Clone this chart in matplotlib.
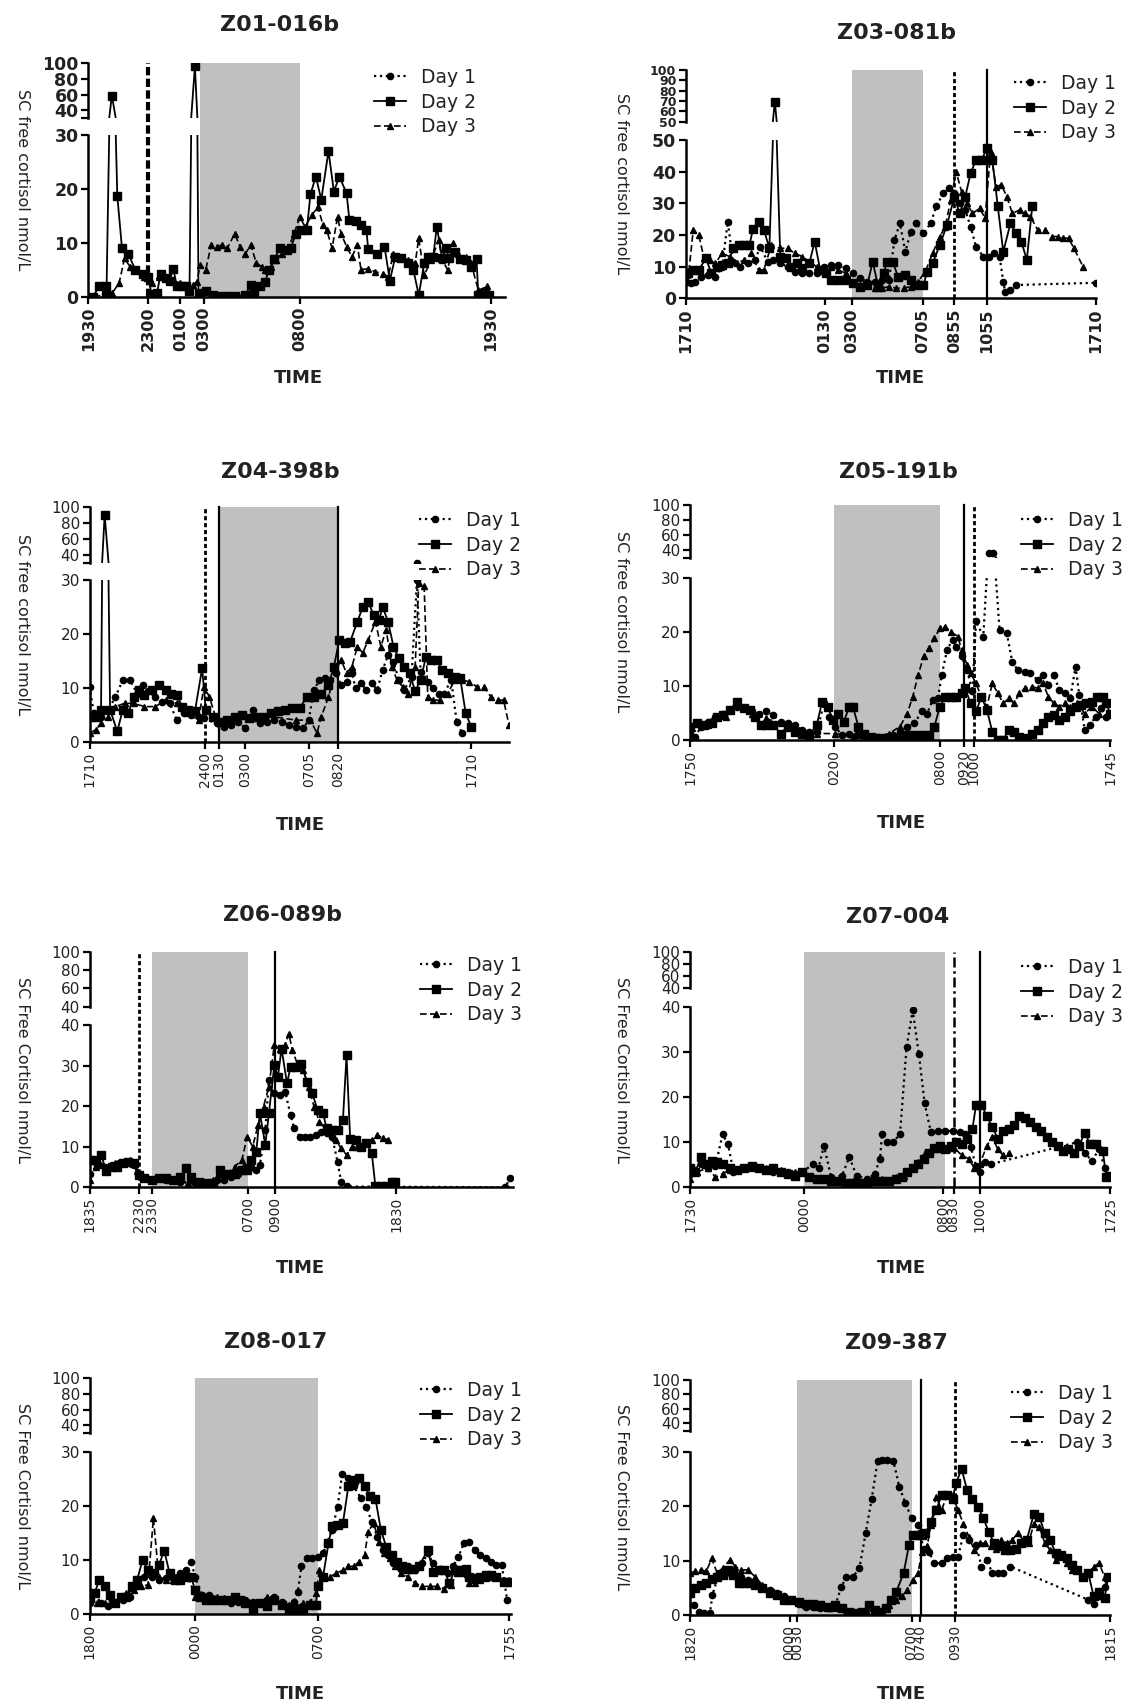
import matplotlib
matplotlib.use('Agg')
import matplotlib.pyplot as plt
from matplotlib.lines import Line2D

W, H = 1131, 1704

# x = sample position along the time axis (tick labels give clock time),
# y = SC free cortisol nmol/L.  Each series is a list of (x, y) pairs.

# ---------------- Z01-016b ----------------
z01_day1 = []
z01_day2 = [(1.3, 0), (3, 2), (5, 2), (5, 0.3), (6.5, 59), (8, 18.7), (9.3, 9), (11, 8), (13, 5), (15, 4.3),
            (16.5, 3.7), (17.5, 0.5), (19, 0.6), (20, 4.3), (21.5, 3.4), (22.5, 3), (23.5, 5.2), (24.5, 2),
            (26, 2), (27, 1.9), (28, 1), (29.5, 96), (30.5, 0.6), (32.5, 1), (34.5, 0.3), (36.5, 0.2),
            (38.5, 0.2), (40.5, 0.2), (43.5, 0.3), (45, 2.2), (46, 0.6), (47.5, 1.9), (49, 2.8), (50, 5),
            (51.5, 7), (53, 9), (55, 8.6), (56, 9), (57.5, 11.7), (59, 12.4), (60.5, 12.4), (61.5, 19),
            (63, 22.3), (64.5, 18), (66.5, 27), (68, 19.5), (69.5, 22.3), (71.5, 19.2), (72.3, 14.2),
            (74, 14), (75.5, 13.3), (77, 12.4), (77.5, 8.8), (80, 8), (82, 9.3), (83.5, 3), (85, 7.4),
            (86.5, 7.1), (88.5, 6.2), (90, 5), (91.5, 0.3), (93, 6.2), (94, 7.4), (95.5, 7.4), (96.5, 13),
            (98, 7.1), (99, 9), (100, 7.1), (101.5, 8.3), (103, 7), (104.5, 6.8), (106, 5.6), (107.5, 7),
            (108, 0.3), (109.5, 0.6), (111, 0.3)]
z01_day3 = [(1.5, 0), (6.5, 0.6), (8.5, 2.5), (10, 7.1), (11.5, 5.6), (13.5, 5), (15.5, 3.7), (17.5, 2.5),
            (19.5, 3.7), (21.5, 3.7), (23.5, 3), (25.5, 2.5), (27.5, 1.9), (29, 2.2), (30, 2.8), (31, 5.9),
            (32.5, 5), (34, 9.6), (35.5, 9.3), (37, 9.6), (38.5, 9), (40.5, 11.7), (42, 9.3), (43.5, 8),
            (45, 9.6), (46.5, 6.2), (48, 5.6), (49, 5), (50.5, 5.6), (52, 6.8), (53.5, 8), (55.5, 9.3),
            (57, 11.7), (58.5, 14.8), (60, 13), (62, 15.2), (63.5, 16.7), (65, 13.3), (66, 12.4), (67.5, 9),
            (69, 14.8), (70, 11.7), (71.5, 9.3), (73, 7.4), (74.5, 9.6), (75.5, 5), (77.5, 5.2), (79.5, 4.6),
            (81.5, 4.3), (83, 3.7), (84.5, 8), (86.5, 7.4), (88.5, 6.8), (90.5, 6.2), (91.5, 10.8), (93, 4),
            (95, 6.8), (97, 10.5), (98, 6.8), (99.5, 5), (101, 9.9), (102.5, 8), (104.5, 7.4), (106, 6.2),
            (108, 1.2), (110.5, 1.9), (111.5, 0.3)]
z01_ticks = [0, 16.5, 25.5, 32, 58.5, 111.5]
z01_labels = ['1930', '2300', '0100', '0300', '0800', '1930']
z01_shade = (31, 58.5)
z01_vlines = [(16.5, 'heavy')]

# ---------------- Z03-081b ----------------
z03_day1 = [(0.5, 7.4), (1.5, 4.7), (2.5, 5.3), (4, 6.8), (6, 7.4), (8, 6.8), (10, 10), (11.5, 24.2), (13, 11.6),
            (15, 10), (17, 11), (19, 12), (20.5, 16.3), (22.5, 11.6), (24, 12), (26, 11), (28, 10), (30, 8.4),
            (32, 7.9), (34, 7.9), (36, 7.9), (38, 10), (40, 10.5), (42, 10.5), (44, 9.5), (46, 7.9), (48, 6.3),
            (50, 5.3), (52, 5.3), (54, 5.8), (56, 5.8), (57.5, 18.4), (59, 23.7), (60.5, 14.7), (62, 21),
            (63.5, 23.7), (65.5, 20.5), (67.5, 23.7), (69, 29), (71, 33.2), (72.5, 34.7), (74, 33.2), (75.5, 30),
            (77, 27.9), (78.5, 22.6), (80, 16.3), (82, 13.2), (83.5, 13.2), (85, 14.2), (86.5, 13.2), (87.5, 5.3),
            (88, 2.1), (89.5, 2.6), (91, 4.2), (113, 4.9)]
z03_day2 = [(0.5, 7.9), (2, 9), (3.5, 9), (5.5, 12.6), (7, 7.9), (8.5, 10), (10, 10.5), (11.5, 11), (13, 15.8),
            (14.5, 16.8), (16, 16.8), (17.5, 16.8), (18.5, 22), (20, 24.2), (21.5, 21.6), (23, 15.8), (24.5, 69.4),
            (26, 13.2), (27.5, 12.6), (29, 10), (30.5, 11), (32, 9.5), (34, 11), (35.5, 17.9), (37, 9), (38.5, 7.9),
            (40, 5.8), (42, 5.8), (44, 5.8), (46, 4.7), (48, 3.7), (50, 4.2), (51.5, 11.6), (53, 3.7), (54.5, 7.9),
            (55.5, 11.6), (57, 11.6), (58.5, 6.8), (60.5, 7.4), (62, 5.8), (63.5, 4.2), (65.5, 4.2), (66.5, 8.4),
            (68, 11), (70, 16.8), (72, 23.2), (74, 32), (75.5, 26.8), (77, 32), (78.5, 39.5), (80, 43.7),
            (81.5, 43.7), (83, 47.4), (84.5, 43.7), (86, 29), (87.5, 14.7), (89.5, 23.7), (91, 20.5), (92.5, 17.9),
            (94, 12.1), (95.5, 29)]
z03_day3 = [(0.5, 5.3), (2, 21.6), (3.5, 20), (5, 12.6), (6.5, 12.1), (8, 11), (10, 14.2), (12, 13.2), (14, 11),
            (16, 12.1), (18, 14.2), (20, 9), (21.5, 9), (23.5, 16.8), (26, 15.8), (28, 15.8), (30, 14.2), (32, 13.2),
            (34, 11.6), (36, 10), (38, 9), (40, 10), (42, 9), (44, 7.9), (46, 4.7), (48, 4.2), (50, 4.2), (52, 3.2),
            (54, 3.2), (56, 3.7), (58, 3.2), (60, 3.2), (62, 3.7), (64, 5.3), (66, 8.4), (68, 14.2), (70, 19.5),
            (71.5, 22.6), (73, 31), (74.5, 40), (76, 33.7), (77.5, 30), (79, 26.8), (81, 28.4), (82.5, 25.3),
            (84, 46.3), (85.5, 35.3), (87, 35.8), (88.5, 32.1), (90, 26.8), (92, 27.9), (93.5, 26.8), (95, 25.8),
            (97, 21.6), (99, 21.6), (101, 19.5), (102.5, 19.5), (104, 19), (105.5, 19), (107, 15.8), (109.5, 10)]
z03_ticks = [0, 38.2, 45.8, 65.3, 74, 83, 113]
z03_labels = ['1710', '0130', '0300', '0705', '0855', '1055', '1710']
z03_shade = (45.8, 65.3)
z03_vlines = [(74, 'dotted'), (83, 'solid')]

# ---------------- Z04-398b ----------------
z04_day1 = [(0, 10.3), (1.2, 5.4), (3.2, 4.7), (5.2, 6), (7.2, 8.4), (9.2, 11.5), (11.2, 11.5), (13.2, 9),
            (14.7, 10.6), (16.2, 9.4), (18.2, 8.4), (20.2, 7.5), (22.2, 7.2), (24.2, 4.1), (26.2, 5.4), (28.2, 5),
            (30.2, 4.7), (31.7, 4.4), (35.2, 3.5), (37.2, 2.9), (39.2, 3.2), (41.2, 3.8), (43.2, 2.6), (45.2, 6),
            (47.2, 3.5), (49.2, 3.8), (51.2, 4.1), (53.2, 3.8), (55.2, 3.2), (57.2, 2.9), (59.2, 2.6), (60.7, 4.1),
            (62.2, 9.7), (63.7, 11.5), (65.2, 11.8), (66.7, 11.5), (68.2, 12.8), (69.7, 10.6), (71.2, 11.2),
            (72.7, 12.8), (73.7, 10), (75.2, 10.9), (76.7, 9.7), (78.2, 10.9), (79.7, 9.7), (81.2, 13.4),
            (82.7, 16.1), (84.2, 14.9), (85.7, 11.5), (87.2, 9.7), (89.2, 12.1), (90.7, 30), (91.7, 13),
            (93.7, 11.2), (95.2, 10), (96.7, 9), (98.2, 9), (100.2, 11.5), (101.7, 3.8), (103.2, 1.7)]
z04_day2 = [(0, 4.7), (1.7, 4.7), (3.2, 6), (4.2, 89.7), (5.7, 6), (7.7, 2), (9.2, 6), (10.7, 5.4), (12.2, 8.4),
            (13.7, 9.7), (15.2, 8.7), (17.2, 9.7), (19.2, 10.6), (21.2, 9.7), (22.7, 9), (24.2, 8.7), (25.7, 6.6),
            (27.2, 6), (29.2, 5.7), (31.2, 13.7), (32.2, 6), (34.2, 4.7), (36.2, 3.8), (38.2, 4.1), (40.2, 4.7),
            (42.2, 5), (44.2, 4.4), (46.2, 4.7), (48.2, 4.7), (50.2, 5.4), (52.2, 5.7), (54.2, 6), (56.2, 6.3),
            (58.2, 6.3), (60.2, 8.4), (62.2, 8.4), (64.2, 9), (66.2, 10.6), (67.7, 14), (69.2, 18.9), (70.7, 18.3),
            (72.2, 18.6), (74.2, 22.3), (75.7, 25), (77.2, 26), (78.7, 23.5), (80.2, 22.6), (81.2, 25), (82.7, 22.3),
            (84.2, 17.7), (85.7, 15.5), (87.2, 14), (88.7, 12.8), (90.2, 9.4), (91.7, 11.5), (93.2, 15.8),
            (94.7, 15.2), (96.2, 15.2), (97.7, 13.4), (99.2, 12.8), (101.2, 12.1), (102.7, 11.8), (104.2, 5.4),
            (105.7, 2.9)]
z04_day3 = [(0, 1.7), (1.7, 2.3), (3.2, 3.5), (5.2, 4.7), (7.2, 6.6), (9.7, 7.2), (12.2, 7.2), (15.2, 6.6),
            (18.2, 6.6), (21.2, 7.8), (24.2, 7.2), (27.2, 5.4), (30.2, 4.1), (31.7, 10.3), (33.2, 8.4), (35.2, 4.1),
            (39.2, 4.1), (45.2, 4.4), (51.2, 4.7), (57.2, 4.1), (61.2, 4.1), (63, 1.7), (64.2, 4.7), (66.2, 8.4),
            (68.2, 13.4), (69.7, 15.2), (71.2, 12.8), (72.7, 14), (74.2, 17.7), (75.7, 16.5), (77.2, 18.9),
            (79.2, 22.3), (80.7, 17.7), (82.2, 20.8), (83.7, 14), (85.2, 11.5), (86.7, 10.3), (88.2, 9), (90.2, 14),
            (91.2, 29.4), (92.7, 28.8), (93.7, 8.4), (95.2, 7.8), (97.2, 7.8), (99.2, 9), (101.2, 11.5),
            (103.2, 11.5), (105.2, 11.2), (107.2, 10.3), (109.2, 10.3), (111.2, 8.4), (113.2, 7.8), (114.7, 7.8),
            (116.2, 3.2)]
z04_ticks = [0, 31.9, 35.9, 43.2, 60.7, 68.9, 105.7]
z04_labels = ['1710', '2400', '0130', '0300', '0705', '0820', '1710']
z04_shade = (35.9, 68.9)
z04_vlines = [(31.9, 'dotted'), (35.9, 'solid'), (68.9, 'solid')]

# ---------------- Z05-191b ----------------
z05_day1 = [(0, 1.2), (1.5, 0.6), (3, 2.5), (5, 3.4), (7, 4.3), (9, 4.9), (11, 5.6), (13, 6.2), (15, 5.9),
            (17, 5.3), (19, 4.9), (21, 5.3), (23, 4.6), (25, 3.4), (27, 3.1), (29, 2.8), (31, 1.9), (33, 1.5),
            (35, 1.5), (37, 6.8), (38.5, 4.3), (40, 2.5), (42, 0.9), (44, 1.2), (46, 0.9), (48, 0.6), (50, 0.3),
            (52, 0.6), (54, 0.6), (56, 0.9), (58, 1.5), (60, 2.5), (62, 3.1), (64, 5.3), (65.5, 4.9), (67, 7.4),
            (68.5, 7.7), (69.5, 12), (71, 16.7), (72.5, 18.6), (73.5, 17.3), (75, 15.5), (76.5, 13), (78, 9),
            (79, 22), (81, 19.2), (82.5, 36.5), (83.8, 36.5), (85.5, 20.4), (87.5, 19.8), (89, 14.5), (90.5, 13),
            (92.5, 12.7), (94, 12.4), (96, 11.1), (97.5, 12), (99, 10.2), (100.5, 12), (102, 9.3), (103.5, 8.7),
            (105, 7.7), (106.5, 13.6), (107.5, 8.4), (109, 1.9), (110.5, 2.8), (112, 4.3), (113.5, 5.9), (115, 4.3)]
z05_day2 = [(0, 2.5), (2, 3.1), (4, 2.8), (6, 3.1), (7.5, 4.3), (9, 4.6), (11, 5.6), (13, 7.1), (15, 5.9),
            (16.5, 5.6), (18, 4.3), (19.5, 2.8), (21, 2.8), (23, 2.8), (25, 1.2), (27, 2.5), (29, 1.5), (31, 1.2),
            (33, 0.9), (35, 2.8), (36.5, 7.1), (38, 6.2), (39.5, 3.7), (41, 4.9), (42.5, 3.4), (44, 6.2), (45, 6.2),
            (46.5, 2.5), (48, 1.2), (50, 0.6), (52, 0.3), (54, 0.3), (56, 0.3), (58, 0), (60, 0.9), (62, 0.9),
            (64, 0.9), (66, 0.9), (67.5, 2.5), (69, 6.2), (70.5, 8), (72, 8), (73.5, 8), (75, 8.7), (76, 9.6),
            (77.5, 6.8), (79, 5.3), (80.5, 8), (82, 5.6), (83.5, 1.5), (85, 0), (86.5, 0), (88, 1.9), (89.5, 1.5),
            (91, 0.6), (93, 0.3), (94.5, 1.2), (96, 1.9), (97.5, 3.1), (99, 4.3), (100.5, 4.6), (102, 3.7),
            (103.5, 4.3), (105, 5.3), (106.5, 6.2), (108, 6.5), (109.5, 6.8), (111, 7.1), (112.5, 8), (114, 8),
            (115, 6.8), (116, 4.9)]
z05_day3 = [(0, 1.2), (5, 2.8), (10, 4.3), (13, 6.8), (17, 4.9), (21, 4), (25, 3.1), (30, 1.9), (35, 1.2),
            (40, 1.2), (45, 0.6), (50, 0.3), (55, 1.2), (58, 2.5), (60, 4.9), (61.5, 8), (63, 12), (64.5, 15.5),
            (66, 17.1), (67.5, 18.9), (69, 20.7), (70.5, 21), (72, 20.1), (74, 19.2), (75, 16.7), (76.5, 14),
            (77.5, 12.4), (79, 10.5), (80.5, 8), (82, 6.2), (83.5, 10.5), (85, 8.7), (86.5, 6.8), (88, 7.7),
            (89.5, 6.8), (91, 8.7), (92.5, 9.6), (94.5, 9.9), (96, 9.6), (97.5, 10.5), (99, 8), (100.5, 6.8),
            (102, 6.2), (103.5, 6.8), (105, 6.2), (107, 6.8), (109, 4.9), (111, 6.2), (113, 4.9), (115, 6.8)]
z05_ticks = [0, 39.8, 69, 75.8, 78.3, 116]
z05_labels = ['1750', '0200', '0800', '0920', '1000', '1745']
z05_shade = (39.8, 69)
z05_vlines = [(75.8, 'solid'), (78.3, 'dotted')]

# ---------------- Z06-089b ----------------
z06_day1 = [(0, 3.4), (2.2, 5.5), (4.2, 5.1), (6.2, 5.5), (8.2, 5.9), (10.2, 5.9), (12.2, 5.5), (14.2, 2.6),
            (17.2, 1.8), (21.2, 1.8), (25.2, 1.4), (29.2, 1), (31.2, 0.6), (33.2, 0.6), (35.2, 1.8), (37.2, 1.8),
            (39.2, 2.6), (41.2, 3.4), (43.2, 5.1), (44.7, 5.1), (46.2, 4.3), (47.2, 5.5), (48.7, 14.1), (49.7, 26.4),
            (51.2, 23.2), (52.7, 22.8), (54.2, 23.6), (55.7, 17.8), (56.7, 14.5), (58.2, 12.5), (59.7, 12.5),
            (61.2, 12.5), (62.7, 12.9), (64.2, 13.7), (65.7, 13.3), (67.2, 12.5), (68.7, 6.3), (69.7, 1.4),
            (71.2, 0.2), (115.2, 0), (116.4, 2.2)]
z06_day2 = [(0, 6.7), (1.7, 6.7), (3.2, 8), (4.7, 3.9), (6.2, 5.1), (7.7, 5.1), (9.2, 5.9), (10.7, 6.3), (12.2, 5.9),
            (13.7, 3), (15.2, 2.2), (17.2, 1.8), (19.2, 2.2), (21.2, 2.2), (23.2, 1.8), (25.2, 2.6), (26.7, 4.7),
            (28.2, 2.6), (30.2, 1.4), (32.2, 1), (34.2, 1), (36.2, 4.3), (38.2, 3.4), (40.2, 3.4), (42.2, 4.3),
            (43.7, 4.3), (44.7, 6.7), (46.2, 8.8), (47.2, 18.2), (48.7, 10.5), (49.7, 18.2), (51.2, 30.1),
            (52.2, 27.3), (53.2, 34.2), (54.7, 25.6), (55.7, 29.7), (57.2, 29.7), (58.7, 30.5), (60.2, 26),
            (61.7, 23.2), (63.2, 19), (64.7, 18.2), (65.7, 14.5), (67.2, 14.1), (68.7, 14.1), (70.2, 16.6),
            (71.2, 32.5), (72.2, 12), (73.7, 11.7), (75.2, 10), (76.7, 10.8), (78.2, 8.4), (79.2, 0.2), (80.7, 0.2),
            (82.2, 0.2), (83.7, 1.4), (84.7, 1.4)]
z06_day3 = [(0, 1.8), (1.7, 5.1), (3.2, 5.5), (5.2, 5.1), (7.2, 5.9), (9.2, 5.9), (11.2, 6.7), (13.2, 3.9),
            (15.2, 2.2), (19.2, 2.2), (23.2, 1.8), (27.2, 1), (31.2, 0.6), (34.2, 1.8), (36.2, 3.4), (38.2, 3.4),
            (40.2, 5.1), (42.2, 6.7), (43.7, 12.5), (45.2, 10), (46.7, 15.4), (48.2, 19.9), (49.7, 24.8),
            (51.2, 35.1), (52.7, 34.2), (54.2, 35.1), (55.2, 37.9), (56.2, 33.8), (57.7, 30.1), (59.2, 28.9),
            (60.7, 24.8), (62.2, 19.9), (63.7, 16.2), (65.2, 14.5), (66.7, 13.3), (68.2, 11.7), (69.7, 9.6),
            (71.2, 8), (72.7, 10), (74.2, 10), (76.2, 10.8), (78.2, 11.7), (79.7, 12.9), (81.2, 12.1), (82.7, 11.7)]
z06_ticks = [0, 13.7, 17.4, 44, 51.4, 84.9]
z06_labels = ['1835', '2230', '2330', '0700', '0900', '1830']
z06_shade = (17.4, 44)
z06_vlines = [(13.7, 'dotted'), (51.4, 'solid')]

# ---------------- Z07-004 ----------------
z07_day1 = [(0, 3.4), (3, 5.1), (5, 4.3), (7, 4.7), (9, 11.7), (10.5, 9.6), (12, 3.4), (15, 4.3), (19, 4.3),
            (23, 3.4), (27, 3.4), (31, 3.4), (34, 5.1), (35.5, 4.3), (37, 9.2), (39, 2.2), (42, 2.6), (44, 6.7),
            (46, 2.6), (49, 1.8), (51, 3), (52.5, 6.3), (53, 11.7), (54.5, 10), (56, 10), (58, 11.7), (59.8, 31),
            (61.5, 39.2), (63.2, 29.6), (64.8, 18.6), (66.5, 12.3), (68.5, 12.5), (70.5, 12.5), (72.5, 12.5),
            (74.5, 12.3), (76, 11.7), (77.5, 9), (79, 4.7), (80, 3.4), (81.5, 5.5), (83, 5.1), (107, 10),
            (109, 7.6), (111, 5.9), (113, 8.4), (114.5, 4.3)]
z07_day2 = [(0, 4.3), (1.5, 3.4), (3, 6.7), (4.5, 5.1), (6, 5.9), (7.5, 5.5), (9, 5.1), (11, 4.3), (13, 3.9),
            (15, 4.3), (17, 4.7), (19, 4.3), (21, 3.9), (23, 4.3), (25, 3.4), (27, 3), (29, 2.6), (31, 3.4),
            (33, 2.2), (35, 1.8), (37, 1.8), (39, 1.4), (41, 1.4), (43, 1), (45, 1), (47, 1), (49, 1), (51, 1.4),
            (53, 1.4), (55, 1.4), (57, 1.8), (58.5, 2.2), (60, 3.4), (61.5, 4.3), (63, 5.1), (64.5, 6.3), (66, 7.6),
            (67.5, 8.8), (69, 9.2), (70.5, 8.4), (72, 9.2), (73.5, 10), (75, 9.6), (76.5, 10.8), (78, 12.9),
            (79, 18.2), (80.5, 18.2), (82, 15.8), (83.5, 13.3), (85, 10.8), (86.5, 12.5), (88, 12.9), (89.5, 13.7),
            (91, 15.8), (92.5, 15.4), (94, 14.5), (95.5, 13.3), (97, 12.5), (98.5, 11.2), (100, 10), (101.5, 9.2),
            (103, 8), (104.5, 8.4), (106, 7.6), (107.5, 9.2), (109, 12.1), (110.5, 9.6), (112, 9.6), (114, 8),
            (115, 2.2), (116, 2.6)]
z07_day3 = [(0, 1.8), (2, 3.4), (5, 4.3), (7, 2.2), (9, 3), (11, 3.9), (13, 3.9), (17, 4.3), (21, 4.3), (25, 3.9),
            (29, 3.4), (33, 2.6), (37, 1.8), (41, 1.4), (45, 1.4), (49, 1.4), (53, 1.8), (57, 2.2), (59, 2.6),
            (61, 4.3), (63, 5.5), (65, 7.6), (67, 8.4), (69, 8.4), (71, 8.4), (73, 8.8), (75, 7.1), (77, 6.3),
            (78.5, 4.3), (80, 5.1), (82, 9.2), (83.5, 11.2), (85, 8.4), (86.5, 7.1), (88, 7.6)]
z07_ticks = [0, 31.5, 70, 72.8, 80, 116]
z07_labels = ['1730', '0000', '0800', '0830', '1000', '1725']
z07_shade = (31.5, 70.5)
z07_vlines = [(72.8, 'dashdot'), (80, 'solid')]

# ---------------- Z08-017 ----------------
z08_day1 = [(0, 2), (1.4, 3.8), (3.2, 2), (5.2, 1.4), (7.2, 2), (9.2, 2.6), (11.2, 3.2), (13.2, 5.1), (15.2, 6.9),
            (17.2, 6.9), (19.2, 6.3), (21.2, 6.6), (23.2, 6.9), (25.2, 7.5), (26.7, 8.1), (28.2, 9.7), (29.2, 6.9),
            (31.2, 3.5), (33.2, 3.5), (35.2, 2.6), (37.2, 2.6), (39.2, 2), (41.2, 2.3), (43.2, 2.6), (45.2, 2.3),
            (47.2, 2), (49.2, 2.6), (51.2, 3.2), (53.2, 2.3), (55.2, 1.4), (56.7, 2.3), (57.7, 4.1), (58.7, 8.8),
            (60.2, 10.3), (61.7, 10.3), (63.2, 10.6), (64.7, 11.2), (65.7, 13), (67.2, 15.5), (68.7, 19.8),
            (70, 25.9), (71.7, 25.1), (73.2, 23.6), (75.2, 21.4), (76.7, 19.8), (78.2, 17), (79.7, 14.3),
            (81.2, 11.8), (82.7, 10.9), (84.2, 9.4), (86.2, 8.4), (88.2, 8.8), (90.2, 8.1), (92.2, 9.4),
            (93.7, 11.2), (95.2, 9.4), (97.2, 8.4), (99.2, 7.5), (100.7, 8.8), (102.2, 10.6), (103.7, 13.1),
            (105.2, 13.4), (106.7, 11.8), (108.2, 10.9), (109.7, 10.3), (111.2, 9.7), (112.7, 9), (114.2, 9),
            (115.7, 2.6)]
z08_day2 = [(0, 3.2), (1.4, 3.8), (2.7, 6.3), (4.2, 5.1), (5.7, 3.5), (7.2, 2), (8.7, 3.2), (10.2, 3.2),
            (11.7, 5.1), (13.2, 6.3), (14.7, 10), (16.2, 8.1), (17.7, 7.5), (19.2, 9), (20.7, 11.7), (22.2, 7.5),
            (23.7, 6.3), (25.2, 6.3), (26.7, 6.9), (28.2, 6.9), (29.2, 4.4), (30.7, 3.2), (32.2, 2.6), (34.2, 2.6),
            (36.2, 2.6), (38.2, 2.6), (40.2, 3.2), (41.7, 2.6), (43.2, 2), (45.2, 1), (47.2, 2), (49.2, 1.4),
            (51.2, 2.6), (53.2, 1.7), (55.2, 1), (57.2, 0.4), (59.2, 1), (61.2, 1.7), (62.7, 1.7), (63.2, 5.1),
            (64.7, 6.9), (66.2, 13.1), (67.2, 16.2), (68.7, 16.5), (70.2, 16.8), (71.7, 23.6), (73.2, 24.8),
            (74.7, 25.1), (76.2, 23.6), (77.7, 21.9), (79.2, 21.3), (80.7, 15.6), (82.2, 12.4), (83.7, 10.9),
            (85.2, 9.7), (86.7, 8.8), (88.2, 8.4), (89.7, 8.4), (91.2, 8.8), (93.7, 11.8), (95.2, 7.8), (96.7, 8.1),
            (98.2, 8.1), (99.7, 5.7), (101.2, 8.1), (102.7, 8.1), (104.2, 8.4), (105.2, 6.9), (106.7, 6.6),
            (108.2, 6.9), (109.7, 7.2), (111.2, 7.2), (112.7, 6.9), (114.7, 6), (116.2, 6)]
z08_day3 = [(0, 2.6), (2.2, 2), (4.2, 2), (6.2, 2.6), (8.2, 3.2), (10.2, 3.8), (12.2, 4.4), (14.2, 5.1), (16.2, 5.4),
            (17.7, 17.7), (19.2, 6.9), (21.2, 6.3), (23.2, 6.3), (25.2, 6.6), (27.2, 7.2), (29.2, 3.2), (31.2, 3.2),
            (33.2, 3.5), (35.2, 3.2), (37.2, 2.9), (39.2, 2.6), (41.2, 2.6), (43.2, 2), (45.2, 2), (47.2, 2),
            (49.2, 3.2), (51.2, 2.6), (53.2, 2), (55.2, 1.7), (57.2, 1.4), (59.2, 2), (61.2, 2.3), (62.7, 3.8),
            (63.7, 8.1), (65.2, 6.9), (66.7, 6.9), (68.2, 7.5), (70.2, 8.1), (71.7, 8.8), (73.2, 8.8), (74.7, 9.7),
            (76.2, 10.9), (77.2, 15.2), (78.7, 16.8), (80.2, 13.4), (81.7, 11.2), (83.2, 10.3), (84.7, 8.8),
            (86.2, 7.5), (88.2, 6.9), (90.2, 5.7), (92.2, 5.1), (94.2, 5.1), (96.2, 5.1), (98.2, 4.7), (100.2, 5.4),
            (101.7, 7.5), (103.2, 7.5), (105.2, 5.7), (106.7, 5.7), (108.2, 6.3), (109.7, 6.6), (111.2, 6.9),
            (113.2, 6.9), (114.7, 6.3), (116.2, 6.3)]
z08_ticks = [0, 29.2, 63.2, 116.2]
z08_labels = ['1800', '0000', '0700', '1755']
z08_shade = (29.2, 63.4)
z08_vlines = []

# ---------------- Z09-387 ----------------
z09_day1 = [(1, 1.8), (2.5, 0.6), (4, 0.3), (5.5, 0.3), (6.2, 3.7), (8, 7.7), (10, 7.7), (12, 8.3), (14, 7),
            (16, 6.4), (18, 5.5), (20, 5.2), (22, 4.6), (24, 4), (26, 3.4), (28, 2.8), (30, 2.1), (32, 1.5),
            (34, 1.5), (36, 1.2), (38, 1.2), (40, 1.5), (41.8, 5.2), (43.2, 7), (45, 7), (46.8, 8.6), (48.5, 15),
            (50.2, 21.4), (51.8, 28.2), (53, 28.5), (54.5, 28.5), (56.2, 28.2), (57.8, 23.6), (59.5, 20.5),
            (61.2, 17.8), (63, 16.5), (64.5, 12.2), (66, 11.6), (67.5, 9.5), (69.5, 9.5), (71, 10.4), (72.5, 10.7),
            (74, 10.7), (75.5, 14.7), (77, 13.8), (79, 12.9), (80.5, 8.9), (82, 10.1), (83.5, 7.7), (85, 7.7),
            (86.5, 7.7), (88.5, 8.9), (110, 2.8), (111.5, 2.1), (113, 3.4), (114.5, 5.2), (115.5, 7)]
z09_day2 = [(0, 4), (1.5, 4.9), (3, 5.5), (4.5, 5.8), (6, 6.7), (7.5, 7), (9, 7.3), (10.5, 8.3), (12, 7.3),
            (13.5, 5.8), (15, 5.8), (16.5, 5.8), (18, 5.5), (20, 4.9), (22, 4), (24, 3.7), (26, 2.8), (28, 2.8),
            (30, 2.4), (32, 2.1), (34, 2.1), (36, 1.8), (38, 1.5), (40, 1.8), (42, 1.2), (44, 0.6), (46, 0.3),
            (47.5, 0.6), (49.5, 1.8), (51, 0.9), (52.5, 0.6), (54, 1.2), (55.5, 2.8), (57, 4.3), (59, 7.7),
            (60.5, 12.9), (61.5, 14.7), (63, 14.7), (64, 14.7), (65, 15), (66.5, 17.1), (68, 19.3), (69.5, 22),
            (71, 22), (72.5, 21.4), (73.5, 24.2), (75, 26.9), (76.5, 23), (78, 21.4), (79.5, 19.9), (81, 17.8),
            (82.5, 15.3), (84, 13.2), (85.5, 12.6), (87, 11.9), (88.5, 11.9), (90, 12.2), (91.5, 13.2), (93, 13.8),
            (95, 18.6), (96.5, 18), (98, 15), (99.5, 13.8), (101, 11.3), (102.5, 11), (104, 10.4), (105.5, 9.2),
            (107, 8.3), (108.5, 7), (110, 7.7), (111.5, 3.4), (113, 4.3), (114.5, 3.1), (115.5, 7)]
z09_day3 = [(0, 7.7), (1.5, 8), (3, 8.3), (4.5, 8), (6, 10.4), (7.5, 7.7), (9, 8.6), (11, 10.1), (12.5, 8.9),
            (14, 8.3), (16, 8.3), (18, 7), (20, 5.5), (22, 4.6), (24, 4), (26, 3.4), (28, 2.8), (31, 2.4), (33, 1.8),
            (35, 1.5), (37, 1.5), (39, 1.2), (41, 1.2), (43, 0.9), (45, 0.6), (47, 0.6), (49, 0.6), (51, 0.9),
            (53, 0.9), (55, 1.8), (57, 2.8), (58.5, 3.4), (60, 4.6), (61.5, 6.4), (63, 7.7), (64, 11.6), (65.5, 12.6),
            (66.5, 16.5), (68, 21.7), (69.5, 19.3), (71, 22), (72.5, 22), (74, 19.3), (75.5, 16.8), (77, 14.4),
            (78.5, 11.9), (80, 13.2), (81.5, 13.2), (83, 12.6), (84.5, 12.2), (86, 13.8), (87.5, 13.2), (89, 13.8),
            (90.5, 15), (92, 13.8), (93.5, 13.2), (95, 16.8), (96.5, 16.2), (98, 13.2), (99.5, 11.9), (101, 10.1),
            (102.5, 10.7), (104, 9.5), (105.5, 8.3), (107, 8.3), (108.5, 7), (110, 7.7), (111.5, 8.9), (113, 9.5),
            (114.5, 7)]
z09_ticks = [0, 27.5, 29.5, 61.2, 63.5, 73.3, 116]
z09_labels = ['1820', '0000', '0030', '0700', '0740', '0930', '1815']
z09_shade = (29.5, 61.2)
z09_vlines = [(63.7, 'solid'), (73.3, 'dotted')]

# panel layout in pixels of the 1131 x 1704 figure
panels = [
    dict(title='Z01-016b', d=(z01_day1, z01_day2, z01_day3), ticks=z01_ticks, labels=z01_labels,
         shade=z01_shade, vlines=z01_vlines, xs=(88.4, 505.4), xmax=115.5,
         low=(135, 296.7), up=(63.3, 118.3), cut=30, uticks=[30, 40, 60, 80, 100],
         tpos=(280, 25), time=(298, 378), ylab=(22, 180), leg=(374, 80), bold=True,
         ylabel='SC free cortisol nmol/L'),
    dict(title='Z03-081b', d=(z03_day1, z03_day2, z03_day3), ticks=z03_ticks, labels=z03_labels,
         shade=z03_shade, vlines=z03_vlines, xs=(686, 1095.7), xmax=113,
         low=(140, 298.3), up=(70, 121.7), cut=50, uticks=[50, 60, 70, 80, 90, 100],
         tpos=(896, 33), time=(900, 378), ylab=(622, 184), leg=(1014, 86), bold=True,
         ylabel='SC free cortisol nmol/L'),
    dict(title='Z04-398b', d=(z04_day1, z04_day2, z04_day3), ticks=z04_ticks, labels=z04_labels,
         shade=z04_shade, vlines=z04_vlines, xs=(89.5, 509), xmax=116.2,
         low=(580, 742.3), up=(506.7, 562.7), cut=30, uticks=[30, 40, 60, 80, 100],
         tpos=(280, 472), time=(300, 825), ylab=(22, 625), leg=(419, 523), bold=False,
         ylabel='SC free cortisol nmol/L'),
    dict(title='Z05-191b', d=(z05_day1, z05_day2, z05_day3), ticks=z05_ticks, labels=z05_labels,
         shade=z05_shade, vlines=z05_vlines, xs=(690, 1110), xmax=116,
         low=(578.3, 740), up=(505, 557.5), cut=30, uticks=[30, 40, 60, 80, 100],
         tpos=(898, 472), time=(901, 823), ylab=(621, 622), leg=(1021, 523), bold=False,
         ylabel='SC free cortisol nmol/L'),
    dict(title='Z06-089b', d=(z06_day1, z06_day2, z06_day3), ticks=z06_ticks, labels=z06_labels,
         shade=z06_shade, vlines=z06_vlines, xs=(89.5, 512.6), xmax=117.2,
         low=(1025, 1187.3), up=(951.7, 1006.7), cut=40, uticks=[40, 60, 80, 100],
         tpos=(282, 915), time=(300, 1268), ylab=(22, 1070), leg=(420, 968), bold=False,
         ylabel='SC Free Cortisol nmol/L'),
    dict(title='Z07-004', d=(z07_day1, z07_day2, z07_day3), ticks=z07_ticks, labels=z07_labels,
         shade=z07_shade, vlines=z07_vlines, xs=(690, 1110), xmax=116,
         low=(1006.7, 1187.3), up=(951.7, 988.3), cut=40, uticks=[40, 60, 80, 100],
         tpos=(898, 917), time=(901, 1268), ylab=(621, 1070), leg=(1021, 970), bold=False,
         ylabel='SC Free Cortisol nmol/L'),
    dict(title='Z08-017', d=(z08_day1, z08_day2, z08_day3), ticks=z08_ticks, labels=z08_labels,
         shade=z08_shade, vlines=z08_vlines, xs=(89.5, 510.8), xmax=116.7,
         low=(1451.7, 1614), up=(1378.3, 1433.3), cut=30, uticks=[30, 40, 60, 80, 100],
         tpos=(276, 1342), time=(300, 1694), ylab=(22, 1496), leg=(420, 1393), bold=False,
         ylabel='SC Free Cortisol nmol/L'),
    dict(title='Z09-387', d=(z09_day1, z09_day2, z09_day3), ticks=z09_ticks, labels=z09_labels,
         shade=z09_shade, vlines=z09_vlines, xs=(690, 1110), xmax=116,
         low=(1451.7, 1615), up=(1380, 1430.6), cut=30, uticks=[30, 40, 60, 80, 100],
         tpos=(896, 1343), time=(901, 1694), ylab=(621, 1497), leg=(1011, 1396), bold=False,
         ylabel='SC Free Cortisol nmol/L'),
]

styles = [
    dict(color='black', ls=':', lw=1.6, marker='o', ms=4.5),
    dict(color='black', ls='-', lw=1.3, marker='s', ms=5.5),
    dict(color='black', ls=(0, (4, 2)), lw=1.2, marker='^', ms=4),
]
vstyle = {'solid': dict(ls='-', lw=1.6), 'dotted': dict(ls=(0, (1.5, 1)), lw=2.0),
          'dashdot': dict(ls=(0, (4, 1.5, 1, 1.5)), lw=1.8), 'heavy': dict(ls=(0, (2, 0.8)), lw=3.0)}
TXT = '#222222'


def rect(x0, x1, top, bottom):
    return [x0 / W, 1 - bottom / H, (x1 - x0) / W, (bottom - top) / H]


def draw_series(ax, series, st, keep_seg, keep_pt):
    # only the segments that reach into this axes' part of the broken y axis
    xs, ys = [], []
    for (xa, ya), (xb, yb) in zip(series[:-1], series[1:]):
        if keep_seg(ya, yb):
            if xs and xs[-1] == xa and ys[-1] == ya:
                xs.append(xb); ys.append(yb)
            else:
                if xs:
                    xs.append(float('nan')); ys.append(float('nan'))
                xs += [xa, xb]; ys += [ya, yb]
    line = {k: v for k, v in st.items() if k not in ('marker', 'ms')}
    if xs:
        ax.plot(xs, ys, zorder=3, **line)
    pts = [(x, y) for x, y in series if keep_pt(y)]
    if pts:
        mx, my = zip(*pts)
        ax.plot(mx, my, ls='none', marker=st['marker'], ms=st['ms'], color=st['color'], zorder=4)


fig = plt.figure(figsize=(W / 100, H / 100), dpi=100)

for p in panels:
    lo = fig.add_axes(rect(p['xs'][0], p['xs'][1], *p['low']))
    up = fig.add_axes(rect(p['xs'][0], p['xs'][1], *p['up']))
    up.patch.set_visible(False)
    reach = (p['low'][1] - p['up'][0]) / (p['low'][1] - p['low'][0])
    cut = p['cut']

    lo.axvspan(p['shade'][0], p['shade'][1], ymin=0, ymax=reach, color='#c0c0c0', lw=0,
               clip_on=False, zorder=0)
    for xv, kind in p['vlines']:
        lo.axvline(xv, ymin=0, ymax=reach, color='black', clip_on=False, zorder=1, **vstyle[kind])

    for series, st in zip(p['d'], styles):
        if series:
            draw_series(lo, series, st, lambda a, b: min(a, b) < cut, lambda y: y <= cut)
            draw_series(up, series, st, lambda a, b: max(a, b) > cut, lambda y: y >= cut)

    for ax in (lo, up):
        ax.set_xlim(0, p['xmax'])
        for side in ('top', 'right'):
            ax.spines[side].set_visible(False)
        ax.spines['left'].set_linewidth(1.8)
        ax.spines['bottom'].set_linewidth(1.8)

    weight = 'bold' if p['bold'] else 'normal'
    tsize = 12.5 if p['bold'] else 11

    lo.set_ylim(0, cut)
    lo.set_yticks(range(0, cut + 1, 10))
    lo.set_yticklabels([str(v) for v in range(0, cut + 1, 10)], fontsize=tsize,
                       fontweight=weight, color=TXT)
    lo.set_xticks(p['ticks'])
    lo.set_xticklabels(p['labels'], rotation=90, fontsize=tsize - 1, fontweight=weight, color=TXT)
    lo.tick_params(axis='both', direction='out', length=5, width=1.6, pad=2)

    up.set_ylim(cut, 100)
    up.spines['bottom'].set_visible(False)
    up.set_xticks([])
    up.set_yticks(p['uticks'])
    ulabels = [('' if v == 30 else str(v)) for v in p['uticks']]
    usize = 9 if len(p['uticks']) > 5 else tsize
    up.set_yticklabels(ulabels, fontsize=usize, fontweight=weight, color=TXT)
    up.tick_params(axis='y', direction='out', length=5, width=1.6, pad=2)

    fig.text(p['tpos'][0] / W, 1 - p['tpos'][1] / H, p['title'], ha='center', va='center',
             fontsize=16, fontweight='bold', color=TXT)
    fig.text(p['time'][0] / W, 1 - p['time'][1] / H, 'TIME', ha='center', va='center',
             fontsize=13, fontweight='bold', color=TXT)
    fig.text(p['ylab'][0] / W, 1 - p['ylab'][1] / H, p['ylabel'], ha='center', va='center',
             rotation=270, fontsize=11.5, color=TXT)

    handles = [Line2D([], [], **st) for st in styles]
    up.legend(handles, ['Day 1', 'Day 2', 'Day 3'], loc='upper left',
              bbox_to_anchor=(p['leg'][0] / W, 1 - (p['leg'][1] - 12) / H),
              bbox_transform=fig.transFigure, frameon=False, fontsize=13.5,
              handlelength=1.7, handletextpad=0.8, labelspacing=0.3,
              borderpad=0, borderaxespad=0, labelcolor=TXT)

fig.savefig('out.png', dpi=100)
